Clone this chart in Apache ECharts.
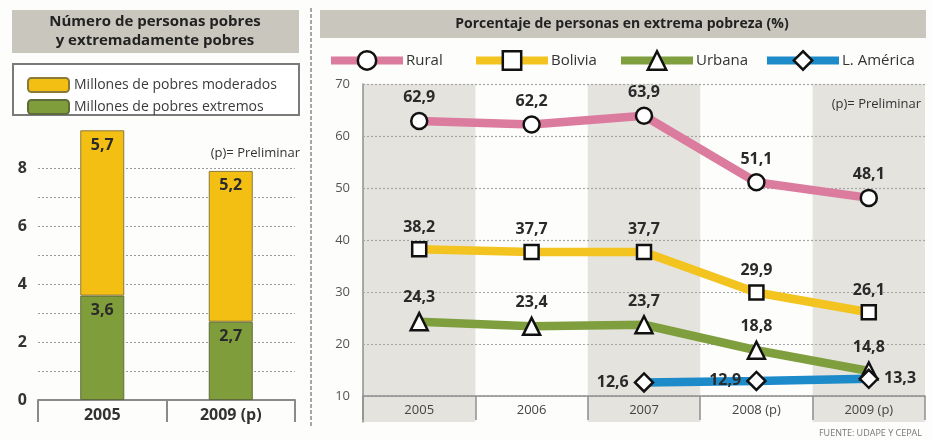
<!DOCTYPE html>
<html>
<head>
<meta charset="utf-8">
<script src="https://cdn.jsdelivr.net/npm/echarts@6/dist/echarts.min.js"></script>
<style>
html,body{margin:0;padding:0;background:#fdfdfb;}
#c{width:933px;height:440px;}
</style>
</head>
<body>
<div id="c"></div>
<script>
// ---- Data ----
const barCategories = ['2005', '2009 (p)'];
const pobresExtremos = [3.6, 2.7];
const pobresModerados = [5.7, 5.2];
const leftTickLabels = [0, 2, 4, 6, 8];

const years = ['2005', '2006', '2007', '2008 (p)', '2009 (p)'];
const rural = [62.9, 62.2, 63.9, 51.1, 48.1];
const bolivia = [38.2, 37.7, 37.7, 29.9, 26.1];
const urbana = [24.3, 23.4, 23.7, 18.8, 14.8];
const lAmerica = ['-', '-', 12.6, 12.9, 13.3];
const rightTickLabels = [10, 20, 30, 40, 50, 60, 70];

// ---- Styling ----
const FONT = "'Open Sans', 'Noto Sans', sans-serif";
const fmt = v => (typeof v === 'number' ? v.toFixed(1).replace('.', ',') : '');
const lAmericaLabelPos = ['left', 'left', 'left', 'left', 'right'];

const valueLabel = {
  show: true, position: 'top', distance: 6,
  fontFamily: FONT, fontWeight: 'bold', fontSize: 16, color: '#2a2a2a',
  formatter: p => fmt(p.value)
};
const markerStyle = { color: '#ffffff', borderColor: '#111111', borderWidth: 2.5 };

function lineSeries(name, data, color, symbol, size, labelPositions) {
  return {
    type: 'line', name: name, xAxisIndex: 1, yAxisIndex: 1,
    data: data.map((v, i) => labelPositions
      ? { value: v, label: { position: labelPositions[i], distance: 5 } }
      : v),
    symbol: symbol, symbolSize: size, showAllSymbol: true,
    lineStyle: { color: color, width: 8.5 },
    itemStyle: markerStyle,
    label: valueLabel,
    z: 3
  };
}

const chart = echarts.init(document.getElementById('c'), null, { renderer: 'canvas' });

const legendBase = {
  top: 45, itemWidth: 72, itemHeight: 23, itemGap: 8,
  textStyle: { fontFamily: FONT, fontSize: 15, color: '#333', padding: [0, 0, 0, -2] },
  lineStyle: { width: 8 },
  itemStyle: { borderWidth: 2.5 },
  selectedMode: false
};

chart.setOption({
  backgroundColor: '#fdfdfb',
  animation: false,
  textStyle: { fontFamily: FONT },
  graphic: [
    // left panel title
    { type: 'rect', shape: { x: 12, y: 10, width: 287, height: 43 }, style: { fill: '#c9c7bd' }, z: -10 },
    { type: 'text', x: 155, y: 22, style: { text: 'Número de personas pobres', font: "bold 15px 'Open Sans', sans-serif", fill: '#222', textAlign: 'center', textVerticalAlign: 'middle' } },
    { type: 'text', x: 155, y: 41, style: { text: 'y extremadamente pobres', font: "bold 15px 'Open Sans', sans-serif", fill: '#222', textAlign: 'center', textVerticalAlign: 'middle' } },
    // left legend box
    { type: 'rect', shape: { x: 13, y: 64, width: 286, height: 51 }, style: { fill: '#ffffff', stroke: '#7a7a7a', lineWidth: 2 }, z: -10 },
    // separator
    { type: 'line', shape: { x1: 311, y1: 8, x2: 311, y2: 428 }, style: { stroke: '#8a8a8a', lineWidth: 1.5, lineDash: [4, 2] } },
    // right panel title
    { type: 'rect', shape: { x: 320, y: 10, width: 606, height: 28 }, style: { fill: '#c9c7bd' }, z: -10 },
    { type: 'text', x: 622, y: 24, style: { text: 'Porcentaje de personas en extrema pobreza (%)', font: "bold 14px 'Open Sans', sans-serif", fill: '#222', textAlign: 'center', textVerticalAlign: 'middle' } },
    // notes
    { type: 'text', x: 300, y: 153, style: { text: '(p)= Preliminar', font: "13px 'Open Sans', sans-serif", fill: '#333', textAlign: 'right', textVerticalAlign: 'middle' } },
    { type: 'text', x: 921, y: 104, style: { text: '(p)= Preliminar', font: "13px 'Open Sans', sans-serif", fill: '#333', textAlign: 'right', textVerticalAlign: 'middle' }, z: 10 },
    { type: 'text', x: 922, y: 433, style: { text: 'FUENTE: UDAPE Y CEPAL', font: "9px 'Open Sans', sans-serif", fill: '#777', textAlign: 'right', textVerticalAlign: 'middle' } }
  ],
  legend: [
    {
      orient: 'vertical', left: 22, top: 72, itemWidth: 41, itemHeight: 14, itemGap: 6,
      data: ['Millones de pobres moderados', 'Millones de pobres extremos'],
      textStyle: { fontFamily: FONT, fontSize: 14, color: '#3a3a3a' },
      selectedMode: false
    },
    Object.assign({}, legendBase, { left: 322, data: ['Rural'] }),
    Object.assign({}, legendBase, { left: 467, data: ['Bolivia'] }),
    Object.assign({}, legendBase, { left: 612, data: ['Urbana'] }),
    Object.assign({}, legendBase, { left: 758, data: ['L. América'] })
  ],
  grid: [
    { left: 38, width: 257, top: 168, height: 232 },
    { left: 363, width: 562, top: 84, height: 312 },
    { left: 363, width: 562, top: 84, height: 338 }
  ],
  xAxis: [
    {
      gridIndex: 0, type: 'category', data: barCategories,
      axisLine: { lineStyle: { color: '#8a8a8a', width: 2 } },
      axisTick: { show: true, length: 22, lineStyle: { color: '#8a8a8a', width: 2 } },
      axisLabel: { fontFamily: FONT, fontWeight: 'bold', fontSize: 16, color: '#333', margin: 7 }
    },
    {
      gridIndex: 1, type: 'category', data: years,
      axisLine: { lineStyle: { color: '#8f8f8f', width: 1.5 } },
      axisTick: { show: true, interval: 0, length: 24, lineStyle: { color: '#8f8f8f', width: 1.5 } },
      axisLabel: { fontFamily: FONT, fontSize: 13, color: '#444', margin: 8 },
      z: 2
    },
    {
      gridIndex: 2, type: 'category', data: years,
      axisLine: { show: false }, axisTick: { show: false }, axisLabel: { show: false },
      splitArea: { show: true, areaStyle: { color: ['#e4e3dd', 'rgba(255,255,255,0)'] } },
      z: 0
    }
  ],
  yAxis: [
    {
      gridIndex: 0, type: 'value', min: 0, max: 8, interval: 1,
      axisLine: { show: false }, axisTick: { show: false },
      axisLabel: {
        fontFamily: FONT, fontWeight: 'bold', fontSize: 16, color: '#333', margin: 11,
        formatter: v => (leftTickLabels.includes(v) ? String(v) : '')
      },
      splitLine: { lineStyle: { color: '#9a9a9a', width: 1, type: [2, 2] } }
    },
    {
      gridIndex: 1, type: 'value', min: 10, max: 70, interval: 10,
      axisLine: { show: false }, axisTick: { show: false },
      axisLabel: {
        fontFamily: FONT, fontSize: 13, color: '#555', margin: 13,
        formatter: v => (rightTickLabels.includes(v) ? String(v) : '')
      },
      splitLine: { lineStyle: { color: '#a5a5a5', width: 1.2, type: [2, 2] } },
      z: 2
    },
    {
      gridIndex: 2, type: 'value', min: 0, max: 1,
      axisLine: { show: true, lineStyle: { color: '#8f8f8f', width: 1.5 } },
      axisTick: { show: false }, axisLabel: { show: false }, splitLine: { show: false },
      z: 1
    }
  ],
  series: [
    {
      type: 'bar', name: 'Millones de pobres extremos', stack: 'p', xAxisIndex: 0, yAxisIndex: 0,
      data: pobresExtremos, barWidth: 44, clip: false,
      itemStyle: { color: '#7f9e3b', borderColor: '#5e6b3a', borderWidth: 1 },
      label: { show: true, position: 'insideTop', distance: 7, fontFamily: FONT, fontWeight: 'bold', fontSize: 16, color: '#2a2a2a', formatter: p => fmt(p.value) }
    },
    {
      type: 'bar', name: 'Millones de pobres moderados', stack: 'p', xAxisIndex: 0, yAxisIndex: 0,
      data: pobresModerados, barWidth: 44, clip: false,
      itemStyle: { color: '#f3bf12', borderColor: '#8a7a3a', borderWidth: 1 },
      label: { show: true, position: 'insideTop', distance: 7, fontFamily: FONT, fontWeight: 'bold', fontSize: 16, color: '#2a2a2a', formatter: p => fmt(p.value) }
    },
    lineSeries('Rural', rural, '#db7b9e', 'circle', 16),
    lineSeries('Bolivia', bolivia, '#f3c31f', 'rect', 14),
    lineSeries('Urbana', urbana, '#7f9f3e', 'triangle', 17),
    lineSeries('L. América', lAmerica, '#1d8bc9', 'diamond', 18, lAmericaLabelPos)
  ]
});
</script>
</body>
</html>
